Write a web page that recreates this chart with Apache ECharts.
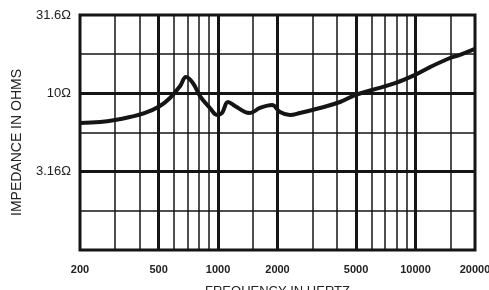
<!DOCTYPE html>
<html>
<head>
<meta charset="utf-8">
<script src="https://cdn.jsdelivr.net/npm/echarts@6/dist/echarts.min.js"></script>
<style>
  html, body { margin: 0; padding: 0; background: #fff; }
  #chart { width: 489px; height: 290px; }
</style>
</head>
<body>
<div id="chart"></div>
<script>
// impedance curve
const freqs = [200, 253, 301, 358, 427, 508, 571, 642, 688, 747, 810, 910, 988, 1047, 1123, 1218, 1369, 1451, 1631, 1876, 2059, 2314, 2599, 3282, 4144, 4938, 6020, 7870, 9940, 11840, 14940, 16790, 20000];
const ohms = [6.46, 6.56, 6.75, 7.06, 7.49, 8.30, 9.33, 11.1, 12.7, 11.6, 9.61, 8.06, 7.27, 7.49, 8.80, 8.30, 7.60, 7.49, 8.06, 8.42, 7.60, 7.27, 7.49, 8.06, 8.80, 9.75, 10.5, 11.6, 13.1, 14.7, 16.8, 17.6, 19.2];

// tick labels
const xLabels = [200, 500, 1000, 2000, 5000, 10000, 20000];
const yLabels = [3.16, 10, 31.6];

// grid lines
const xMajor = [500, 1000, 2000, 5000, 10000];
const xMinor = [300, 400, 600, 700, 800, 900, 1500, 3000, 4000, 6000, 7000, 8000, 9000, 15000];
const yMajor = [3.16, 10];
const yMinor = [1.78, 5.62, 17.8];

const ink = '#151515';

const gridLines = [
  ...xMinor.map(v => ({ xAxis: v, lineStyle: { width: 1.5 } })),
  ...yMinor.map(v => ({ yAxis: v, lineStyle: { width: 1.5 } })),
  ...xMajor.map(v => ({ xAxis: v, lineStyle: { width: 3 } })),
  ...yMajor.map(v => ({ yAxis: v, lineStyle: { width: 3 } }))
];

const myChart = echarts.init(document.getElementById('chart'));

const option = {
  animation: false,
  grid: {
    left: 80, right: 14, top: 15, bottom: 40,
    outerBoundsMode: 'none',
    containLabel: false,
    show: true,
    borderColor: ink,
    borderWidth: 3
  },
  xAxis: {
    type: 'log',
    min: 200,
    max: 20000,
    axisLine: { show: false },
    axisTick: { show: false },
    splitLine: { show: false },
    axisLabel: {
      customValues: xLabels,
      formatter: v => String(v),
      margin: 14,
      color: '#222',
      fontFamily: 'Liberation Sans',
      fontWeight: 'bold',
      fontSize: 11
    },
    name: 'FREQUENCY IN HERTZ',
    nameLocation: 'middle',
    nameGap: 35,
    nameTextStyle: { color: '#222', fontFamily: 'Liberation Sans', fontSize: 13 }
  },
  yAxis: {
    type: 'log',
    min: 1,
    max: 31.6,
    axisLine: { show: false },
    axisTick: { show: false },
    splitLine: { show: false },
    axisLabel: {
      customValues: yLabels,
      margin: 9,
      color: '#222',
      fontFamily: 'Liberation Sans',
      fontSize: 13,
      formatter: v => v + 'Ω'
    },
    name: 'IMPEDANCE IN OHMS',
    nameLocation: 'middle',
    nameGap: 56,
    nameTextStyle: { color: '#222', fontFamily: 'Liberation Sans', fontSize: 14, padding: [0, 20, 0, 0] }
  },
  series: [
    {
      type: 'line',
      data: freqs.map((f, i) => [f, ohms[i]]),
      smooth: 0.4,
      showSymbol: false,
      lineStyle: { color: ink, width: 4 },
      markLine: {
        silent: true,
        symbol: 'none',
        label: { show: false },
        lineStyle: { color: ink, type: 'solid' },
        data: gridLines
      },
      z: 3
    }
  ]
};

myChart.setOption(option);
</script>
</body>
</html>
